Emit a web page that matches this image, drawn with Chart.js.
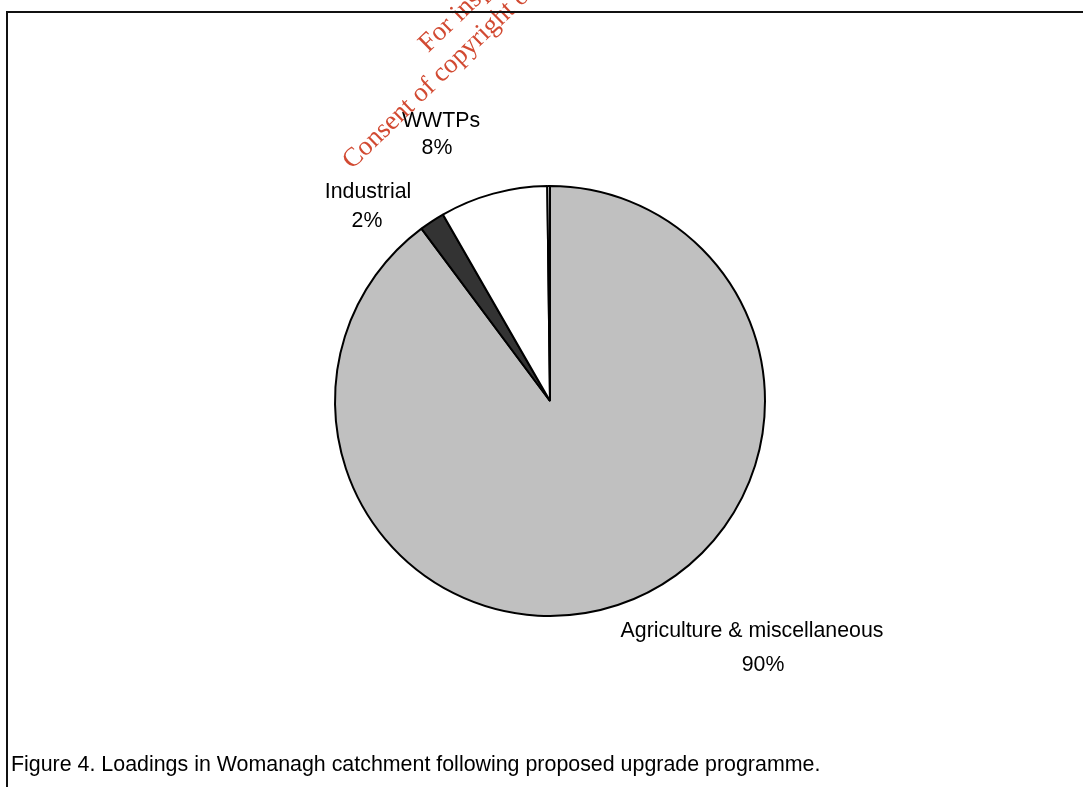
<!DOCTYPE html>
<html>
<head>
<meta charset="utf-8">
<script src="https://cdn.jsdelivr.net/npm/chart.js@4.4.1/dist/chart.umd.min.js"></script>
<style>
    html, body { margin: 0; padding: 0; background: #fff; }
    #wrap { position: relative; width: 1083px; height: 787px; }
    #frameTop { position: absolute; left: 6px; top: 11px; width: 1077px; height: 2px; background: #111; }
    #frameLeft { position: absolute; left: 6px; top: 11px; width: 2px; height: 776px; background: #111; }
    #caption { position: absolute; left: 11px; top: 752px; font: 21.4px "Liberation Sans", Arial, sans-serif; color: #000; white-space: nowrap; }
</style>
</head>
<body>
<div id="wrap">
    <canvas id="pieChart" width="1083" height="787"></canvas>
    <div id="frameTop"></div>
    <div id="frameLeft"></div>
    <div id="caption">Figure 4. Loadings in Womanagh catchment following proposed upgrade programme.</div>
</div>
<script>
// slices, clockwise from 12 o'clock
const categories = ['Agriculture & miscellaneous', 'Industrial', 'WWTPs', 'Other'];
const loadings = [89.8, 1.9, 8.1, 0.2];
const sliceColours = ['#c0c0c0', '#333333', '#ffffff', '#ffffff'];
const showLabel = [true, true, true, false];

// where each label sits (text centre of line 1 / line 2)
const labelSpots = [
    { x: 752, y: 631, px: 763, py: 665 },
    { x: 368, y: 192, px: 367, py: 221 },
    { x: 441, y: 121, px: 437, py: 148 },
    null
];

const sliceLabels = {
    id: 'sliceLabels',
    afterDraw(chart) {
        const ctx = chart.ctx;
        const vals = chart.data.datasets[0].data;
        const total = vals.reduce((a, b) => a + b, 0);
        ctx.save();
        ctx.font = '21.3px "Liberation Sans", Arial, sans-serif';
        ctx.fillStyle = '#000';
        ctx.textAlign = 'center';
        ctx.textBaseline = 'middle';
        vals.forEach((v, i) => {
            if (!showLabel[i] || !labelSpots[i]) return;
            const s = labelSpots[i];
            ctx.fillText(chart.data.labels[i], s.x, s.y);
            ctx.fillText(Math.round(v / total * 100) + '%', s.px, s.py);
        });
        ctx.restore();
    }
};

// red watermark stamped across the page
const watermark = {
    id: 'watermark',
    afterDraw(chart) {
        const ctx = chart.ctx;
        ctx.save();
        ctx.fillStyle = 'rgb(210,74,50)';
        ctx.font = '27px "Liberation Serif", "Times New Roman", serif';
        ctx.textBaseline = 'alphabetic';
        ctx.translate(352, 170);
        ctx.rotate(-44 * Math.PI / 180);
        ctx.fillText('Consent of copyright owner required for any other use.', 0, 0);
        ctx.fillText('For inspection purposes only.', 136, -31);
        ctx.restore();
    }
};

const ctx = document.getElementById('pieChart');

const data = {
    labels: categories,
    datasets: [{
        data: loadings,
        backgroundColor: sliceColours,
        borderColor: '#000',
        borderWidth: 2
    }]
};

const config = {
    type: 'pie',
    data: data,
    options: {
        responsive: false,
        animation: false,
        devicePixelRatio: 1,
        layout: { padding: { left: 200, right: 183, top: 185, bottom: 170 } },
        plugins: {
            legend: { display: false },
            tooltip: { enabled: false }
        }
    },
    plugins: [sliceLabels, watermark]
};

const myChart = new Chart(ctx, config);
</script>
</body>
</html>
